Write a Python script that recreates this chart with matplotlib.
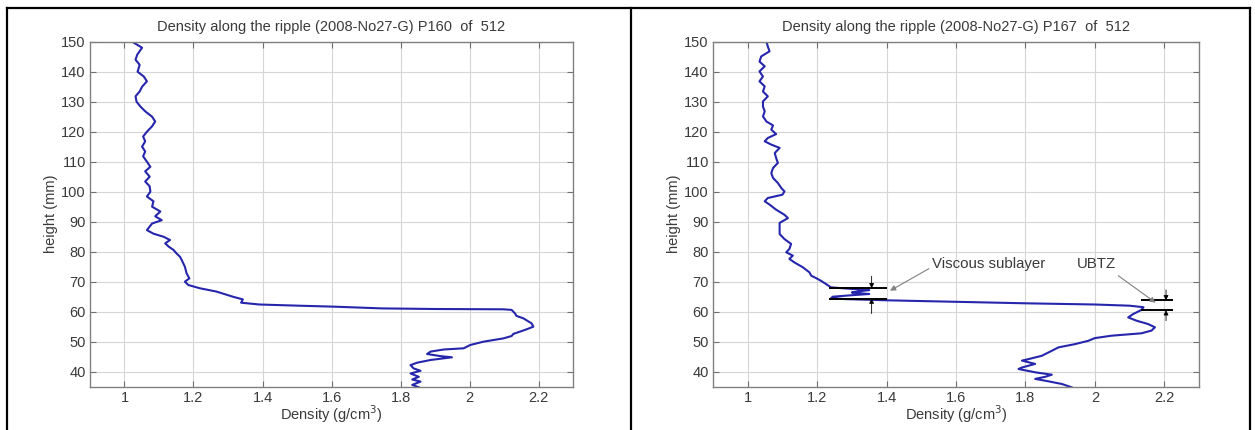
import matplotlib
matplotlib.use("Agg")
import matplotlib.pyplot as plt
from matplotlib.lines import Line2D

plt.rcParams['font.family'] = ['Liberation Sans', 'DejaVu Sans']

# profile P160 (left panel): height (mm) and density (g/cm^3)
left_height = [150, 148, 145.7, 144, 142.3, 140, 138.4, 136.8, 135, 133.4, 131.8, 130, 128.4,
               126.8, 125, 123.4, 121.8, 120, 118.4, 116.8, 115, 113.4, 111.8, 110, 108.3,
               106.8, 105, 103.4, 101.8, 100, 98.4, 96.8, 95, 93.4, 91.8, 90.5, 89.4, 87.2,
               86, 85, 83.9, 82.8, 81.7, 80.6, 79.4, 78.3, 77.2, 75, 72.8, 71.1, 70, 68.9,
               67.8, 66.7, 65, 64.1, 63, 62.4, 62, 61.7, 61.1, 60.9, 60.8, 60.6, 59.4, 58.6,
               57.8, 56.1, 55, 53.9, 52.6, 51.9, 51.1, 50, 48.9, 47.8, 47.4, 46.7, 45.9, 45.2,
               44.8, 43.9, 43, 42.2, 41.1, 40.3, 39.4, 38.3, 37.4, 36.7, 35.6, 34.8]
left_density = [1.022, 1.051, 1.037, 1.032, 1.044, 1.038, 1.056, 1.065, 1.051, 1.044, 1.032,
                1.035, 1.046, 1.060, 1.080, 1.089, 1.080, 1.065, 1.054, 1.060, 1.051, 1.060,
                1.054, 1.065, 1.075, 1.060, 1.073, 1.060, 1.073, 1.075, 1.065, 1.084, 1.080,
                1.104, 1.089, 1.108, 1.080, 1.065, 1.084, 1.113, 1.132, 1.118, 1.128, 1.142,
                1.151, 1.161, 1.166, 1.175, 1.180, 1.188, 1.175, 1.185, 1.219, 1.267, 1.314,
                1.343, 1.338, 1.391, 1.506, 1.602, 1.746, 1.90, 2.098, 2.122, 2.132, 2.136,
                2.156, 2.180, 2.185, 2.160, 2.127, 2.122, 2.098, 2.040, 2.002, 1.983, 1.925,
                1.887, 1.877, 1.915, 1.949, 1.887, 1.848, 1.829, 1.838, 1.858, 1.829, 1.853,
                1.834, 1.858, 1.834, 1.853]

# profile P167 (right panel)
right_height = [150, 148.4, 146.8, 145.1, 143.4, 141.8, 140.1, 138.4, 136.8, 135.1, 133.4,
                131.8, 130.1, 128.4, 126.8, 125.1, 123.4, 122.1, 120.7, 119.2, 117.9, 116.8,
                115.7, 114.6, 112.9, 111.2, 109.6, 107.9, 106.2, 104.6, 102.9, 101.2, 100.1,
                99, 97.9, 96.8, 95.7, 94, 92.3, 91.2, 89.6, 87.3, 85.9, 84.2, 82.6, 80.9,
                79.8, 78.7, 77.6, 76.4, 74.8, 73.1, 72, 71.2, 70.3, 69.2, 68.1, 67.6, 67.2,
                66.8, 66.4, 66.1, 65.9, 65.5, 65.0, 64.5, 64.2, 63.8, 63.3, 62.8, 62.4, 62.0,
                61.5, 60.6, 59.2, 58.1, 57, 55.9, 54.8, 53.7, 52.8, 52, 51.2, 50.3, 49.2,
                48.1, 46.4, 45.3, 44.2, 43.7, 42.6, 41.4, 40.9, 39.8, 39, 38.3, 37.6, 36.8,
                35.9, 34.8]
right_density = [1.054, 1.058, 1.063, 1.039, 1.034, 1.049, 1.034, 1.044, 1.034, 1.049, 1.044,
                 1.058, 1.044, 1.044, 1.049, 1.044, 1.054, 1.073, 1.068, 1.082, 1.058, 1.049,
                 1.068, 1.092, 1.078, 1.082, 1.087, 1.073, 1.068, 1.073, 1.087, 1.097, 1.106,
                 1.100, 1.058, 1.049, 1.063, 1.082, 1.106, 1.116, 1.092, 1.092, 1.092, 1.106,
                 1.125, 1.120, 1.111, 1.130, 1.120, 1.135, 1.159, 1.178, 1.183, 1.197, 1.211,
                 1.226, 1.240, 1.300, 1.350, 1.320, 1.300, 1.330, 1.350, 1.300, 1.245, 1.240,
                 1.280, 1.400, 1.600, 1.800, 2.000, 2.100, 2.140, 2.134, 2.110, 2.096, 2.120,
                 2.153, 2.173, 2.163, 2.134, 2.048, 2.000, 1.981, 1.943, 1.895, 1.866, 1.847,
                 1.809, 1.790, 1.828, 1.790, 1.780, 1.828, 1.876, 1.857, 1.828, 1.866, 1.905,
                 1.933]

titles = ['Density along the ripple (2008-No27-G) P160  of  512',
          'Density along the ripple (2008-No27-G) P167  of  512']

x_ticks = [1, 1.2, 1.4, 1.6, 1.8, 2, 2.2]
x_labels = ['1', '1.2', '1.4', '1.6', '1.8', '2', '2.2']
y_ticks = list(range(40, 151, 10))

# layer boundaries marked on P167
viscous_top, viscous_bot = 67.8, 64.4
ubtz_top, ubtz_bot = 63.8, 60.5

line_color = '#2626ad'
text_color = '#3a3a3a'
fs = 10.5

fig = plt.figure(figsize=(12.55, 4.3), dpi=100)
axes = [fig.add_axes([0.0717, 0.1007, 0.3849, 0.8023]),
        fig.add_axes([0.5681, 0.1007, 0.3873, 0.8023])]

for ax, dens, h, title in zip(axes, [left_density, right_density],
                              [left_height, right_height], titles):
    ax.plot(dens, h, color=line_color, lw=1.5)
    ax.set_xlim(0.9, 2.3)
    ax.set_ylim(35, 150)
    ax.set_xticks(x_ticks)
    ax.set_xticklabels(x_labels)
    ax.set_yticks(y_ticks)
    ax.grid(True, color='#d6d6d6', lw=0.8)
    ax.tick_params(direction='in', top=True, right=True, length=4, width=0.8,
                   color='#707070', labelsize=fs, labelcolor=text_color, pad=3)
    for sp in ax.spines.values():
        sp.set_color('#808080')
        sp.set_linewidth(1.0)
    ax.set_title(title, fontsize=fs, color=text_color, pad=8)
    ax.set_xlabel('Density (g/cm$^3$)', fontsize=fs, color=text_color, labelpad=-1)
    ax.set_ylabel('height (mm)', fontsize=fs, color=text_color, labelpad=2)

ax = axes[1]
# viscous sublayer bars and dimension arrows
ax.hlines([viscous_top, viscous_bot], 1.235, 1.40, color='black', lw=1.4, zorder=3)
ax.annotate('', xy=(1.357, viscous_top), xytext=(1.357, viscous_top + 4),
            arrowprops=dict(arrowstyle='-|>', color='black', lw=0.6,
                            mutation_scale=7, shrinkA=0, shrinkB=0))
ax.annotate('', xy=(1.357, viscous_bot), xytext=(1.357, viscous_bot - 5),
            arrowprops=dict(arrowstyle='-|>', color='black', lw=0.6,
                            mutation_scale=7, shrinkA=0, shrinkB=0))
ax.annotate('Viscous sublayer', xy=(1.41, 67.0), xytext=(1.53, 75.8),
            fontsize=10.8, color=text_color, ha='left', va='center',
            arrowprops=dict(arrowstyle='-|>', color='#808080', lw=0.8,
                            mutation_scale=8, shrinkA=0, shrinkB=0,
                            relpos=(0.0, 0.3)))

# UBTZ bars and dimension arrows
ax.hlines([ubtz_top, ubtz_bot], 2.134, 2.225, color='black', lw=1.4, zorder=3)
ax.annotate('', xy=(2.205, ubtz_top), xytext=(2.205, ubtz_top + 3.5),
            arrowprops=dict(arrowstyle='-|>', color='black', lw=0.6,
                            mutation_scale=7, shrinkA=0, shrinkB=0))
ax.annotate('', xy=(2.205, ubtz_bot), xytext=(2.205, ubtz_bot - 3.5),
            arrowprops=dict(arrowstyle='-|>', color='black', lw=0.6,
                            mutation_scale=7, shrinkA=0, shrinkB=0))
ax.annotate('UBTZ', xy=(2.175, 63.0), xytext=(1.948, 75.8),
            fontsize=10.8, color=text_color, ha='left', va='center',
            arrowprops=dict(arrowstyle='-|>', color='#808080', lw=0.8,
                            mutation_scale=8, shrinkA=2, shrinkB=0,
                            relpos=(0.9, 0.0)))

# panel frame around the two plots
for xs, ys in [([7 / 1255, 1250 / 1255], [1 - 8 / 430] * 2),
               ([7 / 1255] * 2, [0, 1 - 8 / 430]),
               ([631 / 1255] * 2, [0, 1 - 8 / 430]),
               ([1250 / 1255] * 2, [0, 1 - 8 / 430])]:
    fig.add_artist(Line2D(xs, ys, color='black', lw=1.6, transform=fig.transFigure))

fig.savefig('out.png', dpi=100)
